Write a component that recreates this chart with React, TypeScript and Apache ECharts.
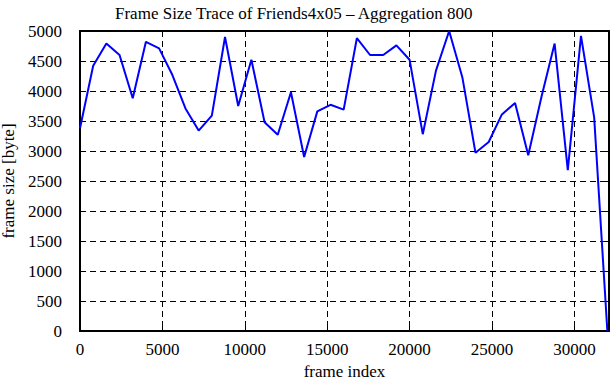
import React, { useEffect, useRef } from "react";
import * as echarts from "echarts";

const titleText = "Frame Size Trace of Friends4x05 – Aggregation 800";
const xName = "frame index";
const yName = "frame size [byte]";
const aggregation = 800;
const frameSizes = [
  3380, 4420, 4790, 4600, 3880, 4820, 4710, 4270, 3710, 3340,
  3590, 4900, 3750, 4520, 3480, 3270, 3980, 2900, 3660, 3770,
  3690, 4880, 4600, 4600, 4760, 4520, 3280, 4340, 5000, 4230,
  2970, 3150, 3610, 3800, 2930, 3900, 4790, 2680, 4920, 3560,
  0,
];
const xTicks = [0, 5000, 10000, 15000, 20000, 25000, 30000];
const yTicks = [0, 500, 1000, 1500, 2000, 2500, 3000, 3500, 4000, 4500, 5000];

export default function App() {
  const ref = useRef<HTMLDivElement>(null);
  useEffect(() => {
    if (!ref.current) return;
    const chart = echarts.init(ref.current, undefined, { renderer: "svg" });
    const font = "Liberation Serif";
    const data = frameSizes.map((v, i) => [i * aggregation, v]);
    const dash = [6, 4];
    const xMax = 32100;
    const yMax = yTicks[yTicks.length - 1];
    chart.setOption({
      animation: false,
      backgroundColor: "#ffffff",
      textStyle: { fontFamily: font },
      title: {
        text: titleText,
        left: 110,
        top: 0,
        textStyle: { fontFamily: font, fontSize: 17, fontWeight: "normal", color: "#000" },
      },
      grid: { left: 80, right: 2, top: 31, bottom: 49, containLabel: false, outerBoundsMode: "none" },
      xAxis: [
        {
          type: "value",
          min: 0,
          max: xMax,
          interval: 5000,
          name: xName,
          nameLocation: "middle",
          nameGap: 31,
          nameTextStyle: { fontFamily: font, fontSize: 17, color: "#000", lineHeight: 17 },
          axisLine: { show: true, onZero: false, lineStyle: { color: "#000", width: 2 } },
          axisTick: { show: true, inside: true, length: 6, lineStyle: { color: "#000", width: 1 } },
          axisLabel: {
            fontFamily: font,
            fontSize: 17,
            color: "#000",
            margin: 10,
            showMaxLabel: false,
            formatter: (v: number) => (xTicks.includes(v) ? String(v) : ""),
          },
          splitLine: { show: true, lineStyle: { color: "#000", type: dash, width: 1 } },
        },
        {
          type: "value",
          position: "top",
          min: 0,
          max: xMax,
          interval: 5000,
          axisLine: { show: true, onZero: false, lineStyle: { color: "#000", width: 2 } },
          axisTick: { show: true, inside: true, length: 6, lineStyle: { color: "#000", width: 1 } },
          axisLabel: { show: false },
          splitLine: { show: false },
        },
      ],
      yAxis: [
        {
          type: "value",
          min: 0,
          max: yMax,
          interval: 500,
          name: yName,
          nameLocation: "middle",
          nameGap: 62,
          nameRotate: 90,
          nameTextStyle: { fontFamily: font, fontSize: 17, color: "#000", lineHeight: 17 },
          axisLine: { show: true, onZero: false, lineStyle: { color: "#000", width: 2 } },
          axisTick: { show: true, inside: true, length: 6, lineStyle: { color: "#000", width: 1 } },
          axisLabel: {
            fontFamily: font,
            fontSize: 17,
            color: "#000",
            margin: 18,
            formatter: (v: number) => String(v),
          },
          splitLine: { show: true, lineStyle: { color: "#000", type: dash, width: 1 } },
        },
        {
          type: "value",
          position: "right",
          min: 0,
          max: yMax,
          interval: 500,
          axisLine: { show: true, onZero: false, lineStyle: { color: "#000", width: 2 } },
          axisTick: { show: true, inside: true, length: 6, lineStyle: { color: "#000", width: 1 } },
          axisLabel: { show: false },
          splitLine: { show: false },
        },
      ],
      series: [
        {
          type: "line",
          data,
          xAxisIndex: 0,
          yAxisIndex: 0,
          showSymbol: false,
          symbol: "none",
          lineStyle: { color: "#0000ff", width: 2 },
          z: 5,
        },
      ],
    });
    return () => chart.dispose();
  }, []);
  return <div ref={ref} style={{ width: 611, height: 380, position: "absolute", left: 0, top: 0 }} />;
}
